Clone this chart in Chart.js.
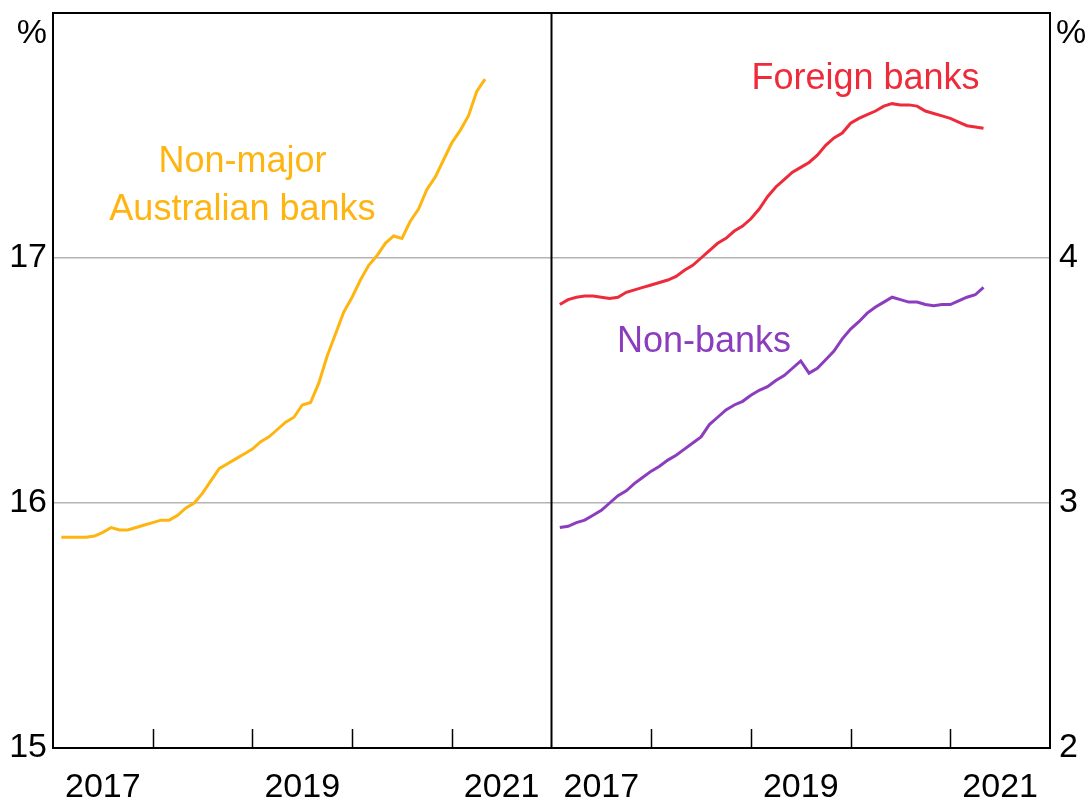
<!DOCTYPE html>
<html>
<head>
<meta charset="utf-8">
<script src="https://cdn.jsdelivr.net/npm/chart.js@4/dist/chart.umd.min.js"></script>
<style>
  html, body { margin: 0; padding: 0; background: #fff; }
  canvas { display: block; }
</style>
</head>
<body>
<canvas id="lendingChart" width="1090" height="800"></canvas>
<script>
// monthly series, first observation Feb 2017
const startYear = 2017;
const startMonth = 2;

// left panel, %
const nonMajor = [
  15.86, 15.86, 15.86, 15.86, 15.865, 15.88, 15.90, 15.89, 15.89, 15.90,
  15.91, 15.92, 15.93, 15.93, 15.95, 15.98, 16.00, 16.04, 16.09, 16.14,
  16.16, 16.18, 16.20, 16.22, 16.25, 16.27, 16.30, 16.33, 16.35, 16.40,
  16.41, 16.49, 16.60, 16.69, 16.78, 16.84, 16.91, 16.97, 17.01, 17.06,
  17.09, 17.08, 17.15, 17.20, 17.28, 17.33, 17.40, 17.47, 17.52, 17.58,
  17.68, 17.73
];

// right panel, %
const foreignBanks = [
  3.81, 3.83, 3.84, 3.845, 3.845, 3.84, 3.835, 3.84, 3.86, 3.87,
  3.88, 3.89, 3.90, 3.91, 3.925, 3.95, 3.97, 4.00, 4.03, 4.06,
  4.08, 4.11, 4.13, 4.16, 4.20, 4.25, 4.29, 4.32, 4.35, 4.37,
  4.39, 4.42, 4.46, 4.49, 4.51, 4.55, 4.57, 4.585, 4.60, 4.62,
  4.63, 4.625, 4.625, 4.62, 4.60, 4.59, 4.58, 4.57, 4.555, 4.54,
  4.535, 4.53
];

const nonBanks = [
  2.90, 2.905, 2.92, 2.93, 2.95, 2.97, 3.00, 3.03, 3.05, 3.08,
  3.105, 3.13, 3.15, 3.175, 3.195, 3.22, 3.245, 3.27, 3.32, 3.35,
  3.38, 3.40, 3.415, 3.44, 3.46, 3.475, 3.50, 3.52, 3.55, 3.58,
  3.53, 3.55, 3.585, 3.62, 3.67, 3.71, 3.74, 3.775, 3.80, 3.82,
  3.84, 3.83, 3.82, 3.82, 3.81, 3.805, 3.81, 3.81, 3.825, 3.84,
  3.85, 3.88
];

const yearLabels = [2017, 2019, 2021];
const leftTicks = [15, 16, 17];
const rightTicks = [2, 3, 4];

const panelYears = 5; // each panel covers 2017-2021
const fontFamily = "'Liberation Sans', Arial, sans-serif";
const yellow = '#FFB511';
const red = '#EE2B3B';
const purple = '#8B3DBE';

function toYear(i) {
  return startYear + (startMonth - 1 + i) / 12;
}

function toPoints(values, offset) {
  return values.map((v, i) => ({ x: toYear(i) + offset, y: v }));
}

// labels sit in the middle of each year, ticks mark year boundaries
const xLabelValues = yearLabels.map(y => y + 0.5)
  .concat(yearLabels.map(y => y + 0.5 + panelYears));

const seriesLabels = [
  { text: 'Non-major', x: 2018.9, y: 17.39, axis: 'y', color: yellow },
  { text: 'Australian banks', x: 2018.9, y: 17.195, axis: 'y', color: yellow },
  { text: 'Foreign banks', x: 2025.15, y: 4.732, axis: 'y2', color: red },
  { text: 'Non-banks', x: 2023.53, y: 3.657, axis: 'y2', color: purple }
];

const framePlugin = {
  id: 'frame',
  afterDraw(chart) {
    const ctx = chart.ctx;
    const area = chart.chartArea;
    const xs = chart.scales.x;
    ctx.save();
    ctx.strokeStyle = '#000';
    ctx.lineWidth = 2;
    ctx.strokeRect(area.left, area.top, area.right - area.left, area.bottom - area.top);

    // panel divider
    const mid = xs.getPixelForValue(startYear + panelYears);
    ctx.beginPath();
    ctx.moveTo(mid, area.top);
    ctx.lineTo(mid, area.bottom);
    ctx.stroke();

    // year tick marks pointing up
    ctx.lineWidth = 1.5;
    for (let y = startYear + 1; y < startYear + 2 * panelYears; y++) {
      if (y === startYear + panelYears) continue;
      const px = Math.round(xs.getPixelForValue(y)) + 0.5;
      ctx.beginPath();
      ctx.moveTo(px, area.bottom);
      ctx.lineTo(px, area.bottom - 19);
      ctx.stroke();
    }

    // units
    ctx.fillStyle = '#000';
    ctx.font = '34px ' + fontFamily;
    ctx.textBaseline = 'middle';
    ctx.textAlign = 'right';
    ctx.fillText('%', area.left - 6, area.top + 21);
    ctx.textAlign = 'left';
    ctx.fillText('%', area.right + 6, area.top + 21);

    // series names
    ctx.font = '36px ' + fontFamily;
    ctx.textAlign = 'center';
    seriesLabels.forEach(l => {
      ctx.fillStyle = l.color;
      ctx.fillText(l.text, xs.getPixelForValue(l.x), chart.scales[l.axis].getPixelForValue(l.y));
    });
    ctx.restore();
  }
};

function lineSet(label, data, color, axis) {
  return {
    label: label,
    data: data,
    yAxisID: axis,
    borderColor: color,
    borderWidth: 3,
    pointRadius: 0,
    tension: 0,
    fill: false
  };
}

var ctx = document.getElementById('lendingChart').getContext('2d');

var myChart = new Chart(ctx, {
  type: 'line',
  data: {
    datasets: [
      lineSet('Non-major Australian banks', toPoints(nonMajor, 0), yellow, 'y'),
      lineSet('Foreign banks', toPoints(foreignBanks, panelYears), red, 'y2'),
      lineSet('Non-banks', toPoints(nonBanks, panelYears), purple, 'y2')
    ]
  },
  options: {
    responsive: false,
    animation: false,
    layout: { padding: { top: 13, left: 0, right: 0, bottom: 0 } },
    plugins: {
      legend: { display: false },
      tooltip: { enabled: false }
    },
    scales: {
      x: {
        type: 'linear',
        min: startYear,
        max: startYear + 2 * panelYears,
        afterBuildTicks: axis => {
          axis.ticks = xLabelValues.map(v => ({ value: v }));
        },
        afterFit: scale => { scale.height = 52; },
        grid: { display: false },
        border: { display: false },
        ticks: {
          color: '#000',
          font: { family: fontFamily, size: 34 },
          padding: 11,
          maxRotation: 0,
          autoSkip: false,
          callback: v => String(Math.round(v < startYear + panelYears ? v - 0.5 : v - 0.5 - panelYears))
        }
      },
      y: {
        position: 'left',
        min: 15,
        max: 18,
        afterBuildTicks: axis => {
          axis.ticks = leftTicks.concat([18]).map(v => ({ value: v }));
        },
        afterFit: scale => { scale.width = 53; scale.paddingTop = 0; },
        grid: {
          drawTicks: false,
          color: c => (c.tick && (c.tick.value === 16 || c.tick.value === 17)) ? '#b4b4b4' : 'rgba(0,0,0,0)',
          lineWidth: 1.5
        },
        border: { display: false },
        ticks: {
          color: '#000',
          font: { family: fontFamily, size: 34 },
          padding: 6,
          callback: v => leftTicks.includes(v) ? String(v) : ''
        }
      },
      y2: {
        position: 'right',
        min: 2,
        max: 5,
        afterBuildTicks: axis => {
          axis.ticks = rightTicks.concat([5]).map(v => ({ value: v }));
        },
        afterFit: scale => { scale.width = 40; scale.paddingTop = 0; },
        grid: { drawOnChartArea: false, drawTicks: false },
        border: { display: false },
        ticks: {
          color: '#000',
          font: { family: fontFamily, size: 34 },
          padding: 9,
          callback: v => rightTicks.includes(v) ? String(v) : ''
        }
      }
    }
  },
  plugins: [framePlugin]
});
</script>
</body>
</html>
